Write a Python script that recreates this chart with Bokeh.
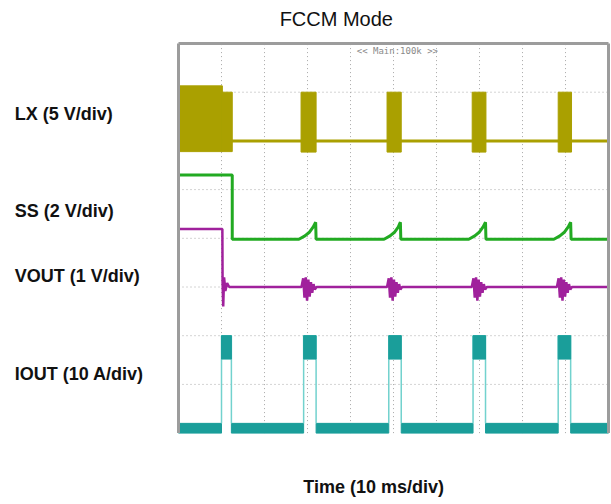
from bokeh.plotting import figure
from bokeh.models import Range1d, Label
from bokeh.embed import file_html
from bokeh.resources import INLINE

# ---- data (time in ms, 10 ms/div; vertical position in screen divisions, 0..8) ----
x_grid = [10, 20, 30, 40, 50, 60, 70, 80, 90]
y_grid = [1, 2, 3, 4, 5, 6, 7]
t_min, t_max = 0.0, 100.0
div_min, div_max = 0.0, 8.0

# LX switching bursts
lx_start = [0.0, 10.2, 28.5, 48.5, 68.3, 88.3]
lx_end = [10.2, 12.5, 32.0, 51.8, 71.5, 91.4]
lx_top = [7.13, 7.0, 7.0, 7.0, 7.0, 7.0]
lx_bottom = [5.78, 5.78, 5.77, 5.77, 5.77, 5.77]
lx_base_t = [0.0, 100.0]
lx_base_v = [6.0, 6.0]

# SS soft-start pin
ss_t = [0.0, 12.5, 12.5,
        28.0, 29.4, 30.5, 31.3, 31.9, 32.0,
        47.8, 49.2, 50.3, 51.1, 51.6, 51.7,
        67.5, 68.9, 70.0, 70.8, 71.4, 71.5,
        87.3, 88.7, 89.8, 90.6, 91.2, 91.3,
        100.0]
ss_v = [5.30, 5.30, 3.98,
        3.98, 4.05, 4.13, 4.23, 4.33, 3.98,
        3.98, 4.05, 4.13, 4.23, 4.33, 3.98,
        3.98, 4.05, 4.13, 4.23, 4.33, 3.98,
        3.98, 4.05, 4.13, 4.23, 4.33, 3.98,
        3.98]

# VOUT
vout_t0 = [0.0, 10.2, 10.25, 10.4, 10.6, 10.9, 11.3, 11.8]
vout_v0 = [4.19, 4.19, 3.10, 2.60, 3.20, 2.92, 3.08, 3.00]
vout_burst = [28.6, 48.5, 68.2, 88.0]
vout_spike_dt = [0.0, 0.4, 0.7, 1.0, 1.3, 1.6, 1.9, 2.2, 2.5, 2.8, 3.1, 3.5]
vout_spike_dv = [0.0, 0.18, -0.22, 0.20, -0.28, 0.15, -0.20, 0.10, -0.12, 0.06, -0.05, 0.0]
vout_end = 100.0
vout_level = 3.0

# IOUT
iout_start = [10.0, 29.1, 48.9, 68.5, 88.3]
iout_end = [12.3, 32.0, 51.8, 71.4, 91.2]
iout_peak = 2.0
iout_block_low = 1.52
iout_base = 0.2

# texts
title_text = "FCCM Mode"
xlabel_text = "Time (10 ms/div)"
scope_text = "<< Main:100k >>"
ch_labels = ["LX (5 V/div)", "SS (2 V/div)", "VOUT (1 V/div)", "IOUT (10 A/div)"]
ch_label_y = [6.55, 4.56, 3.23, 1.22]

# ---- build sources ----
vt = list(vout_t0)
vv = list(vout_v0)
for b in vout_burst:
    for dt, dv in zip(vout_spike_dt, vout_spike_dv):
        vt.append(b + dt)
        vv.append(vout_level + dv)
vt.append(vout_end)
vv.append(vout_level)

base_l = [t_min] + iout_end
base_r = iout_start + [t_max]

pulse_xs = []
pulse_ys = []
for s, e in zip(iout_start, iout_end):
    pulse_xs.append([s, s, e, e])
    pulse_ys.append([iout_base, iout_peak, iout_peak, iout_base])

# the whole canvas is the data frame; scope screen = 0..100 ms x 0..8 div
PX_PER_MS = 4.3
PX_PER_DIV = 48.7
W, H = 611, 504
LEFT_PX, TOP_PX = 178, 43
x0 = -LEFT_PX / PX_PER_MS
y1 = div_max + TOP_PX / PX_PER_DIV

p = figure(width=W, height=H,
           x_range=Range1d(x0, x0 + W / PX_PER_MS),
           y_range=Range1d(y1 - H / PX_PER_DIV, y1),
           x_axis_type=None, y_axis_type=None, toolbar_location=None,
           output_backend="svg", min_border=0)
p.outline_line_color = None
p.background_fill_color = "white"
p.border_fill_color = "white"
p.xgrid.visible = False
p.ygrid.visible = False

GRID_C = "#a8a8a8"
p.segment(x0=x_grid, y0=[div_min] * len(x_grid), x1=x_grid, y1=[div_max] * len(x_grid),
          line_color=GRID_C, line_dash="1 3", line_width=1)
p.segment(x0=[t_min] * len(y_grid), y0=y_grid, x1=[t_max] * len(y_grid), y1=y_grid,
          line_color=GRID_C, line_dash="1 3", line_width=1)

LX_C = "#aaa000"
SS_C = "#22aa22"
VO_C = "#a0219c"
IO_C = "#1a9e9a"
IO_EDGE = "#72d2ce"

# LX
p.line(lx_base_t, lx_base_v, line_color=LX_C, line_width=3)
p.quad(left=lx_start, right=lx_end, top=lx_top, bottom=lx_bottom,
       fill_color=LX_C, line_color=LX_C)

# SS
p.line(ss_t, ss_v, line_color=SS_C, line_width=3)

# VOUT
p.line(vt, vv, line_color=VO_C, line_width=2.5)

# IOUT
p.quad(left=base_l, right=base_r, top=[iout_base] * len(base_l), bottom=[div_min] * len(base_l),
       fill_color=IO_C, line_color=IO_C)
p.multi_line(pulse_xs, pulse_ys, line_color=IO_EDGE, line_width=1.5)
p.quad(left=iout_start, right=iout_end, top=[iout_peak] * len(iout_start),
       bottom=[iout_block_low] * len(iout_start), fill_color=IO_C, line_color=IO_C)

# scope frame (left, right, top; bottom is cut off in the original)
FR = "#9c9c9c"
p.segment(x0=[t_min, t_max, t_min], y0=[div_min, div_min, div_max],
          x1=[t_min, t_max, t_max], y1=[div_max, div_max, div_max],
          line_color=FR, line_width=3)

p.add_layout(Label(x=50.9, y=7.85, text=scope_text, text_align="center",
                   text_baseline="middle", text_font_size="9px", text_font="DejaVu Sans Mono",
                   text_color="#8a8a8a"))

p.add_layout(Label(x=36.7, y=8.5, text=title_text, text_align="center", text_baseline="middle",
                   text_font_size="20px", text_font="Liberation Sans", text_color="#111111"))
p.add_layout(Label(x=45.4, y=-1.11, text=xlabel_text, text_align="center",
                   text_baseline="middle", text_font_size="18px", text_font="Liberation Sans",
                   text_font_style="bold", text_color="#111111"))
for t, yy in zip(ch_labels, ch_label_y):
    p.add_layout(Label(x=-38.1, y=yy, text=t, text_align="left", text_baseline="middle",
                       text_font_size="18px", text_font="Liberation Sans",
                       text_font_style="bold", text_color="#111111"))

open("out.html", "w").write(file_html(p, INLINE))
